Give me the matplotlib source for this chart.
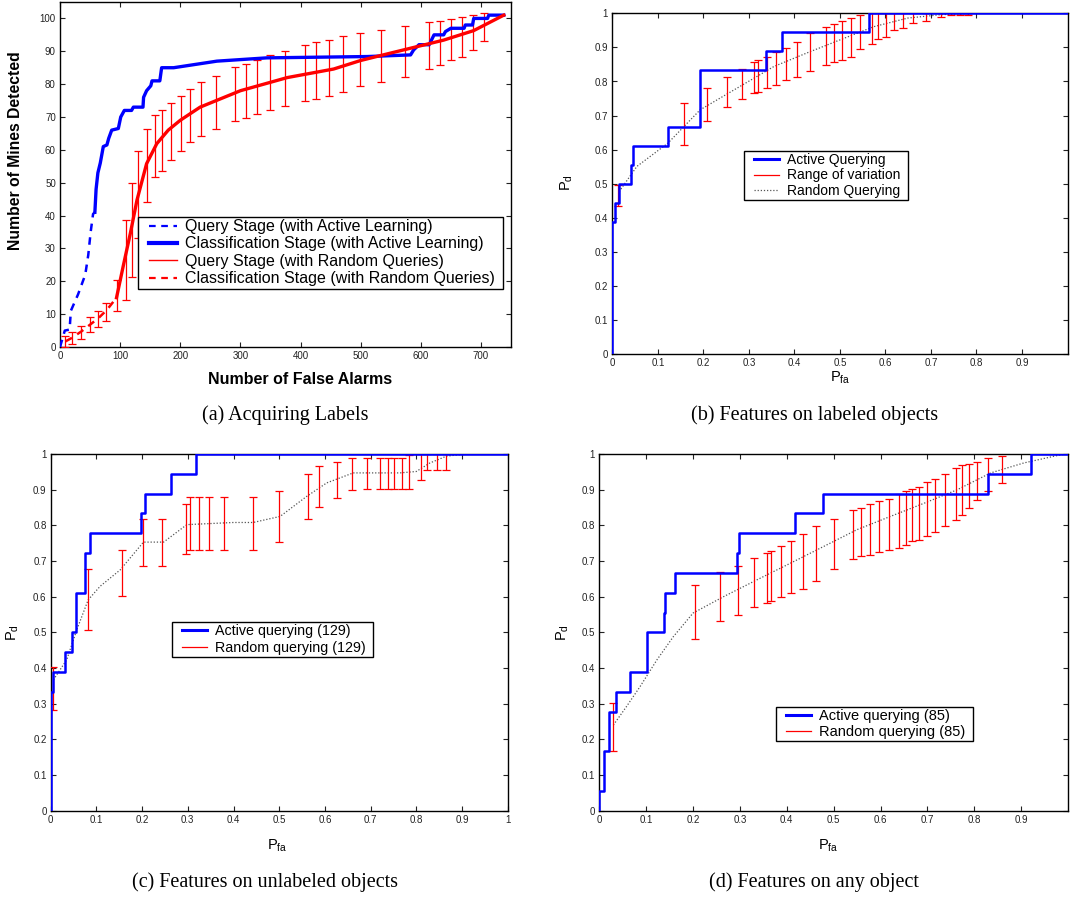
import numpy as np
import matplotlib
matplotlib.use("Agg")
import matplotlib.pyplot as plt
from matplotlib.lines import Line2D
from matplotlib.patches import Rectangle
from matplotlib.transforms import IdentityTransform
from matplotlib.legend_handler import HandlerLine2D

plt.rcParams['font.family'] = ['Liberation Sans', 'DejaVu Sans']
plt.rcParams['mathtext.fontset'] = 'custom'
plt.rcParams['mathtext.rm'] = 'Liberation Sans'
plt.rcParams['mathtext.it'] = 'Liberation Sans'

# ---------------- Panel (a) data ----------------
a_query_al_x = [0, 8, 16, 18, 30, 42, 47, 51, 55, 58]
a_query_al_y = [0, 5, 5.3, 11, 16, 22, 28, 35, 40.5, 41]
a_class_al_x = [58, 60, 63, 67, 69, 72, 78, 81, 86, 97, 101, 107, 119, 122, 138, 139, 144, 151,
                153, 166, 169, 189, 261, 344, 511, 583, 588, 597, 614, 622, 638, 641, 650, 672,
                674, 686, 688, 711, 713, 738]
a_class_al_y = [41, 48, 53, 56, 58, 61, 61.5, 63.5, 66, 66.5, 70, 72, 72, 73, 73, 76, 78, 79.5,
                81, 81, 85, 85, 87, 88, 88.4, 88.9, 90.4, 92, 92, 95, 95, 96, 97, 97,
                98, 98, 100, 100, 101, 101]
a_query_rq_x = [9, 19, 36, 50, 64, 78, 94]
a_query_rq_y = [1.7, 2.7, 4.8, 6.8, 8.8, 11.3, 15]
a_class_rq_x = [94, 105, 117, 128, 144, 161, 180, 200, 233, 300, 378, 455, 500, 533, 600, 638, 688, 738]
a_class_rq_y = [15, 24.5, 34.6, 44.7, 55.8, 61.9, 66, 69, 73, 78, 82, 84.6, 87.2, 88.7, 91.7, 93.4, 96.3, 101]
a_err_x = [9, 20, 35, 50, 63, 77, 95, 110, 119.4, 130.5, 144.3, 158, 169.3, 185, 200.4, 217,
           234.8, 259.8, 291.4, 308.6, 327, 349.7, 374.7, 406.9, 426.3, 446.9, 470.7, 499.6,
           534.6, 572.9, 613.4, 631.7, 649.5, 667.8, 686.2, 705]
a_err_lo = [0, 0.8, 2.5, 4.5, 6, 8, 11.1, 14.4, 21.4, 33.1, 44.2, 51.6, 53.6, 56.8, 59.7, 62.4,
            64.2, 66.4, 68.8, 69.8, 71, 72, 73.4, 74.8, 75.5, 76.4, 77.6, 79.3,
            80.5, 82.3, 84.7, 85.8, 87.2, 88.4, 90.4, 93.2]
a_err_hi = [3.5, 4.5, 6.5, 9, 11, 13.5, 20.5, 38.6, 49.9, 59.7, 66.4, 70.5, 72, 74.3, 76.5, 78.6,
            80.6, 82.6, 85.1, 86.1, 87.4, 88.9, 90, 91.9, 92.7, 93.4, 94.6, 95.6,
            96.6, 97.7, 98.8, 99.3, 99.8, 100.5, 101.1, 101.6]
a_legend = ['Query Stage (with Active Learning)', 'Classification Stage (with Active Learning)',
            'Query Stage (with Random Queries)', 'Classification Stage (with Random Queries)']

# ---------------- Panel (b) data ----------------
b_act_fa = [0, 0, 0.006, 0.015, 0.040, 0.045, 0.122, 0.192, 0.337, 0.373, 0.565, 1.0]
b_act_n = [0, 7, 8, 9, 10, 11, 12, 15, 16, 17, 18, 18]
b_rand_fa = [0.015, 0.054, 0.122, 0.193, 0.281, 0.355, 0.428, 0.502, 0.575, 0.649, 0.722, 0.796, 1.0]
b_rand_pd = [0.477, 0.551, 0.619, 0.717, 0.786, 0.844, 0.884, 0.923, 0.961, 0.986, 0.996, 1.0, 1.0]
b_err_x = [0.012, 0.158, 0.208, 0.251, 0.284, 0.311, 0.320, 0.339, 0.359, 0.381, 0.405, 0.434,
           0.469, 0.486, 0.505, 0.524, 0.545, 0.570, 0.584, 0.601, 0.619, 0.639, 0.661, 0.689,
           0.722, 0.744, 0.763, 0.781]
b_err_lo = [0.435, 0.613, 0.684, 0.724, 0.749, 0.766, 0.768, 0.781, 0.790, 0.803, 0.812, 0.832,
            0.848, 0.856, 0.864, 0.871, 0.896, 0.911, 0.925, 0.931, 0.950, 0.957, 0.973, 0.977,
            0.989, 0.996, 0.996, 0.996]
b_err_hi = [0.497, 0.737, 0.780, 0.812, 0.838, 0.857, 0.862, 0.871, 0.886, 0.897, 0.916, 0.941,
            0.961, 0.970, 0.976, 0.985, 0.995, 1.0, 1.0, 1.0, 1.0, 1.0, 1.0, 1.0,
            1.0, 1.0, 1.0, 1.0]
b_legend = ['Active Querying', 'Range of variation', 'Random Querying']

# ---------------- Panel (c) data ----------------
c_act_fa = [0, 0, 0.006, 0.031, 0.046, 0.055, 0.076, 0.086, 0.197, 0.207, 0.263, 0.319, 1.0]
c_act_n = [0, 6, 7, 8, 9, 11, 13, 14, 15, 16, 17, 18, 18]
c_rand_fa = [0.006, 0.035, 0.057, 0.082, 0.108, 0.152, 0.203, 0.247, 0.298, 0.4, 0.443, 0.502,
             0.56, 0.604, 0.662, 0.764, 0.8, 0.83, 0.866, 0.91, 1.0]
c_rand_pd = [0.367, 0.423, 0.507, 0.591, 0.629, 0.675, 0.753, 0.753, 0.802, 0.808, 0.808, 0.825,
             0.881, 0.919, 0.947, 0.947, 0.951, 0.975, 0.994, 1.0, 1.0]
c_err_x = [0.004, 0.082, 0.156, 0.203, 0.244, 0.295, 0.305, 0.325, 0.346, 0.379, 0.442, 0.500,
           0.562, 0.586, 0.627, 0.660, 0.692, 0.721, 0.737, 0.752, 0.768, 0.785, 0.81, 0.824,
           0.845, 0.864]
c_err_lo = [0.281, 0.507, 0.602, 0.687, 0.687, 0.720, 0.732, 0.732, 0.732, 0.732, 0.732, 0.753,
            0.818, 0.851, 0.878, 0.898, 0.902, 0.902, 0.902, 0.902, 0.902, 0.903, 0.926, 0.954,
            0.954, 0.956]
c_err_hi = [0.404, 0.677, 0.732, 0.819, 0.819, 0.860, 0.879, 0.879, 0.879, 0.879, 0.879, 0.897,
            0.944, 0.965, 0.978, 0.990, 0.990, 0.990, 0.990, 0.990, 0.990, 0.996, 1.0, 1.0,
            1.0, 1.0]
c_legend = ['Active querying (129)', 'Random querying (129)']

# ---------------- Panel (d) data ----------------
d_act_fa = [0, 0, 0.010, 0.021, 0.036, 0.066, 0.101, 0.137, 0.141, 0.162, 0.294, 0.298, 0.418,
            0.478, 0.830, 0.920, 1.0]
d_act_n = [0, 1, 3, 5, 6, 7, 9, 10, 11, 12, 13, 14, 15, 16, 17, 18, 18]
d_rand_fa = [0.03, 0.058, 0.087, 0.123, 0.158, 0.2, 0.265, 0.336, 0.408, 0.479, 0.55, 0.621,
             0.693, 0.764, 0.835, 0.906, 0.985, 1.0]
d_rand_pd = [0.24, 0.292, 0.348, 0.423, 0.488, 0.554, 0.6, 0.647, 0.694, 0.741, 0.788, 0.825,
             0.862, 0.9, 0.947, 0.975, 0.998, 1.0]
d_err_x = [0.03, 0.205, 0.258, 0.296, 0.329, 0.358, 0.366, 0.388, 0.409, 0.434, 0.463, 0.500,
           0.541, 0.558, 0.578, 0.597, 0.618, 0.640, 0.655, 0.668, 0.683, 0.699, 0.716, 0.738,
           0.762, 0.774, 0.789, 0.806, 0.829, 0.859]
d_err_lo = [0.167, 0.481, 0.532, 0.549, 0.571, 0.582, 0.589, 0.599, 0.610, 0.621, 0.645, 0.677,
            0.706, 0.713, 0.717, 0.724, 0.731, 0.736, 0.746, 0.755, 0.760, 0.769, 0.780, 0.799,
            0.814, 0.830, 0.848, 0.872, 0.895, 0.919]
d_err_hi = [0.303, 0.634, 0.668, 0.685, 0.708, 0.723, 0.728, 0.741, 0.757, 0.775, 0.797, 0.819,
            0.844, 0.850, 0.860, 0.867, 0.875, 0.888, 0.895, 0.901, 0.907, 0.921, 0.931, 0.944,
            0.962, 0.968, 0.973, 0.978, 0.988, 0.993]
d_legend = ['Active querying (85)', 'Random querying (85)']

captions = ['(a) Acquiring Labels', '(b) Features on labeled objects',
            '(c) Features on unlabeled objects', '(d) Features on any object']

W, H = 1070, 899
fig = plt.figure(figsize=(W / 100, H / 100), dpi=100)


def px_axes(l, t, r, b):
    return fig.add_axes([l / W, 1 - b / H, (r - l) / W, (b - t) / H])


BLUE = '#0000ff'
RED = '#ff0000'
TICK_FS = 7


def style(ax):
    ax.tick_params(direction='in', top=True, right=True, length=3.5, width=0.8,
                   labelsize=TICK_FS, pad=3, colors='#222222')
    for s in ax.spines.values():
        s.set_linewidth(1.0)
        s.set_color('black')


def errbars(ax, x, lo, hi, lw=0.9, cap=3.2):
    x = np.asarray(x); lo = np.asarray(lo); hi = np.asarray(hi)
    mid = (lo + hi) / 2
    ax.errorbar(x, mid, yerr=(hi - lo) / 2, fmt='none', ecolor=RED, elinewidth=lw,
                capsize=cap, capthick=lw, zorder=3)


legends = []
HPAD = 5.5


def add_legend(ax, handles, labels, left, top, fs, ls, hl):
    lg = ax.legend(handles, labels, loc='upper left',
                   bbox_to_anchor=((left + HPAD) / W, 1 - top / H),
                   bbox_transform=fig.transFigure, borderaxespad=0, fontsize=fs,
                   frameon=False, labelspacing=ls, handlelength=hl, borderpad=0.15,
                   handletextpad=0.55, handler_map={Line2D: HandlerLine2D(xpad=0.15)})
    lg.set_zorder(6)
    legends.append((ax, lg))
    return lg


# ---------------- (a) ----------------
axa = px_axes(60, 2, 511, 347)
axa.plot(a_query_al_x, a_query_al_y, color=BLUE, ls=(0, (3, 2.5)), lw=1.8, zorder=4)
axa.plot(a_class_al_x, a_class_al_y, color=BLUE, lw=2.4, zorder=4)
axa.plot(a_query_rq_x, a_query_rq_y, color=RED, ls=(0, (3, 2.5)), lw=1.8, zorder=4)
axa.plot(a_class_rq_x, a_class_rq_y, color=RED, lw=2.4, zorder=4)
errbars(axa, a_err_x, a_err_lo, a_err_hi)
axa.set_xlim(0, 750)
axa.set_ylim(0, 105)
axa.set_xticks(np.arange(0, 701, 100))
axa.set_yticks(np.arange(0, 101, 10))
style(axa)
fig.text(300 / W, 1 - 380 / H, 'Number of False Alarms', ha='center', va='center',
         fontsize=11.5, fontweight='bold')
fig.text(16 / W, 1 - 151 / H, 'Number of Mines Detected', ha='center', va='center',
         fontsize=11.3, fontweight='bold', rotation=90)
ha = [Line2D([], [], color=BLUE, ls=(0, (3, 2.5)), lw=1.6),
      Line2D([], [], color=BLUE, lw=3.0),
      Line2D([], [], color=RED, lw=1.0),
      Line2D([], [], color=RED, ls=(0, (3, 2.5)), lw=1.6)]
add_legend(axa, ha, a_legend, 138.3, 216.7, 11.5, 0.15, 1.9)


def roc_panel(ax, act_fa, act_n, rand_fa, rand_pd, ex, elo, ehi, xt):
    pd = np.asarray(act_n) / 18.0
    ax.plot(act_fa, pd, drawstyle='steps-post', color=BLUE, lw=1.8, zorder=4)
    ax.plot(rand_fa, rand_pd, color='#555555', ls=(0, (1, 1.5)), lw=0.9, zorder=2)
    errbars(ax, ex, elo, ehi)
    ax.set_xlim(0, 1)
    ax.set_ylim(0, 1)
    ax.set_xticks(xt)
    ax.set_xticklabels([('%g' % v) for v in xt])
    yt = np.round(np.arange(0, 1.01, 0.1), 1)
    ax.set_yticks(yt)
    ax.set_yticklabels([('%g' % v) for v in yt])
    style(ax)


xt9 = list(np.round(np.arange(0, 0.91, 0.1), 1))
xt10 = list(np.round(np.arange(0, 1.01, 0.1), 1))

# ---------------- (b) ----------------
axb = px_axes(612.3, 13.3, 1067.5, 354.3)
roc_panel(axb, b_act_fa, b_act_n, b_rand_fa, b_rand_pd, b_err_x, b_err_lo, b_err_hi, xt9)
hb = [Line2D([], [], color=BLUE, lw=2.2),
      Line2D([], [], color=RED, lw=0.9),
      Line2D([], [], color='#555555', ls=(0, (1, 1.5)), lw=0.9)]
add_legend(axb, hb, b_legend, 744.3, 150.7, 10.0, 0.12, 1.95)
fig.text(840 / W, 1 - 378 / H, r'P$_{\mathrm{fa}}$', ha='center', va='center', fontsize=10.5)
fig.text(567 / W, 1 - 183 / H, r'P$_{\mathrm{d}}$', ha='center', va='center', fontsize=10.5,
         rotation=90)

# ---------------- (c) ----------------
axc = px_axes(50.7, 454, 507.7, 810.7)
roc_panel(axc, c_act_fa, c_act_n, c_rand_fa, c_rand_pd, c_err_x, c_err_lo, c_err_hi, xt10)
hc = [Line2D([], [], color=BLUE, lw=2.2), Line2D([], [], color=RED, lw=0.9)]
add_legend(axc, hc, c_legend, 172, 621.7, 10.25, 0.2, 1.9)
fig.text(277 / W, 1 - 846 / H, r'P$_{\mathrm{fa}}$', ha='center', va='center', fontsize=10.5)
fig.text(13 / W, 1 - 633 / H, r'P$_{\mathrm{d}}$', ha='center', va='center', fontsize=10.5,
         rotation=90)

# ---------------- (d) ----------------
axd = px_axes(599.3, 454, 1068, 810.7)
roc_panel(axd, d_act_fa, d_act_n, d_rand_fa, d_rand_pd, d_err_x, d_err_lo, d_err_hi, xt9)
hd = [Line2D([], [], color=BLUE, lw=2.2), Line2D([], [], color=RED, lw=0.9)]
add_legend(axd, hd, d_legend, 776.3, 706.7, 10.5, 0.12, 1.85)
fig.text(828 / W, 1 - 846 / H, r'P$_{\mathrm{fa}}$', ha='center', va='center', fontsize=10.5)
fig.text(563 / W, 1 - 633 / H, r'P$_{\mathrm{d}}$', ha='center', va='center', fontsize=10.5,
         rotation=90)

# ---------------- captions ----------------
cap_pos = [(285, 415), (815, 415), (265, 882), (814, 882)]
for (cx, cy), txt in zip(cap_pos, captions):
    fig.text(cx / W, 1 - cy / H, txt, ha='center', va='center', fontsize=14.5,
             family=['Liberation Serif', 'DejaVu Serif'])

# legend frames: white box with black edge, slightly wider padding horizontally
fig.canvas.draw()
for ax, lg in legends:
    bb = lg.get_window_extent()
    rect = Rectangle((bb.x0 - HPAD, bb.y0), bb.width + 2 * HPAD, bb.height,
                     transform=IdentityTransform(), facecolor='white', edgecolor='black',
                     linewidth=1.0, zorder=5.5, clip_on=False)
    ax.add_patch(rect)

fig.savefig('out.png', dpi=100)
